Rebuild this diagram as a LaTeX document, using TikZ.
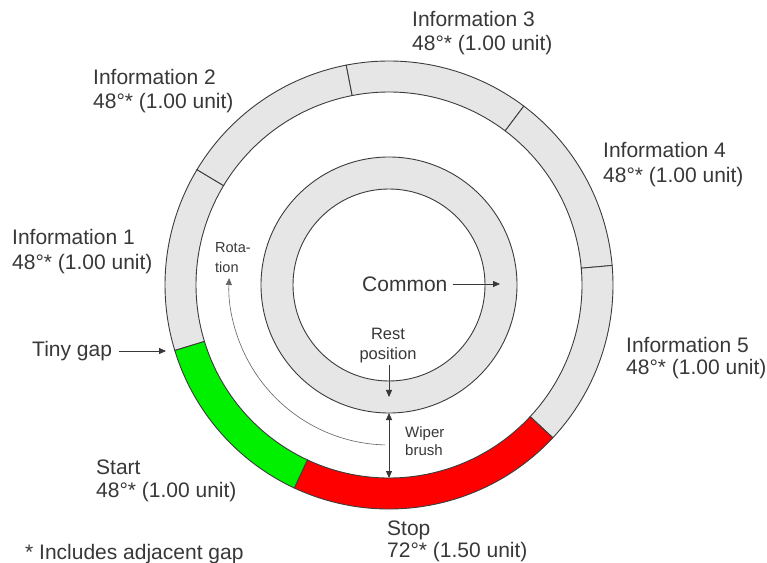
\documentclass[tikz,border=0pt]{standalone}
\usepackage{fontspec}
\setmainfont{Liberation Sans}
\usetikzlibrary{arrows.meta}
\definecolor{ringgray}{HTML}{E6E6E6}
\definecolor{edge}{HTML}{3C3C3C}
\definecolor{txt}{HTML}{383838}
\definecolor{startgreen}{HTML}{00F000}
\definecolor{stopred}{HTML}{FF0000}
\tikzset{
  big/.style={font=\fontsize{21}{24}\selectfont, text=txt, inner sep=0pt, anchor=base west},
  mid/.style={font=\fontsize{16.5}{20}\selectfont, text=txt, inner sep=0pt, anchor=base},
  small/.style={font=\fontsize{15}{18}\selectfont, text=txt, inner sep=0pt, anchor=base west},
  tiny/.style={font=\fontsize{14.5}{17}\selectfont, text=txt, inner sep=0pt, anchor=base west},
  seg/.style={draw=edge, line width=0.9pt},
  pointer/.style={draw=txt, line width=0.8pt, -{Triangle[length=7pt,width=6pt]}},
  rot/.style={draw=edge!80, line width=0.6pt, -{Triangle[length=7pt,width=6pt]}}
}
\begin{document}
\begin{tikzpicture}[x=1pt,y=1pt]
\useasboundingbox (0,0) rectangle (767,562);
\fill[white] (0,0) rectangle (767,562);
\coordinate (C) at (389,277);
\begin{scope}[shift={(389,277)}]
  % outer ring segments
  \foreach \a/\b/\col in {149/197/ringgray, 101/149/ringgray, 53/101/ringgray, 5/53/ringgray, -43/5/ringgray, 245/317/stopred, 197/245/startgreen}{
    \draw[seg, fill=\col] (\a:193) -- (\a:224) arc[start angle=\a, end angle=\b, radius=224] -- (\b:193) arc[start angle=\b, end angle=\a, radius=193] -- cycle;
  }
  % inner ring (common)
  \draw[seg, fill=ringgray, even odd rule] (0,0) circle[radius=128] (0,0) circle[radius=96];
  % rotation arc
  \coordinate (rotS) at (268.6:160);
  \coordinate (rotE) at (177.5:160);
  \draw[rot] (rotS) arc[start angle=268.6, end angle=177.5, radius=160];
  % wiper brush
  \coordinate (wA) at (0,-128);
  \coordinate (wB) at (0,-193);
  \draw[draw=txt, line width=0.8pt, {Triangle[length=7pt,width=6pt]}-{Triangle[length=7pt,width=6pt]}] (wA) -- (wB);
\end{scope}

% labels
\node[big] (i3a) at (412,535) {Information 3};
\node[big] (i3b) at (412,511) {48°* (1.00 unit)};
\node[big] (i2a) at (93,477) {Information 2};
\node[big] (i2b) at (93,453) {48°* (1.00 unit)};
\node[big] (i1a) at (12,317) {Information 1};
\node[big] (i1b) at (12,292) {48°* (1.00 unit)};
\node[big] (i4a) at (603,404) {Information 4};
\node[big] (i4b) at (603,379) {48°* (1.00 unit)};
\node[big] (i5a) at (626,209) {Information 5};
\node[big] (i5b) at (626,187) {48°* (1.00 unit)};
\node[big] (sta) at (96,88) {Start};
\node[big] (stb) at (96,65) {48°* (1.00 unit)};
\node[big] (spa) at (387,27) {Stop};
\node[big] (spb) at (387,5) {72°* (1.50 unit)};
\node[big] (note) at (25,3) {* Includes adjacent gap};
\node[big] (gap) at (32,205) {Tiny gap};
\node[big] (com) at (362,270) {Common};
\node[mid] (rest1) at (388,222) {Rest};
\node[mid] (rest2) at (388,202) {position};
\node[small] (wip1) at (405,125) {Wiper};
\node[small] (wip2) at (405,107) {brush};
\node[tiny] (rot1) at (215,309) {Rota-};
\node[tiny] (rot2) at (215,289) {tion};

% pointers
\coordinate (gapTip) at (166,211);
\draw[pointer] (gap.east |- 0,211) ++(7,0) -- (gapTip);
\coordinate (comTip) at (500,278);
\draw[pointer] (com.east |- 0,278) ++(5,0) -- (comTip);
\coordinate (restTip) at (389,165);
\draw[pointer] (389,197) -- (restTip);
\end{tikzpicture}
\end{document}
